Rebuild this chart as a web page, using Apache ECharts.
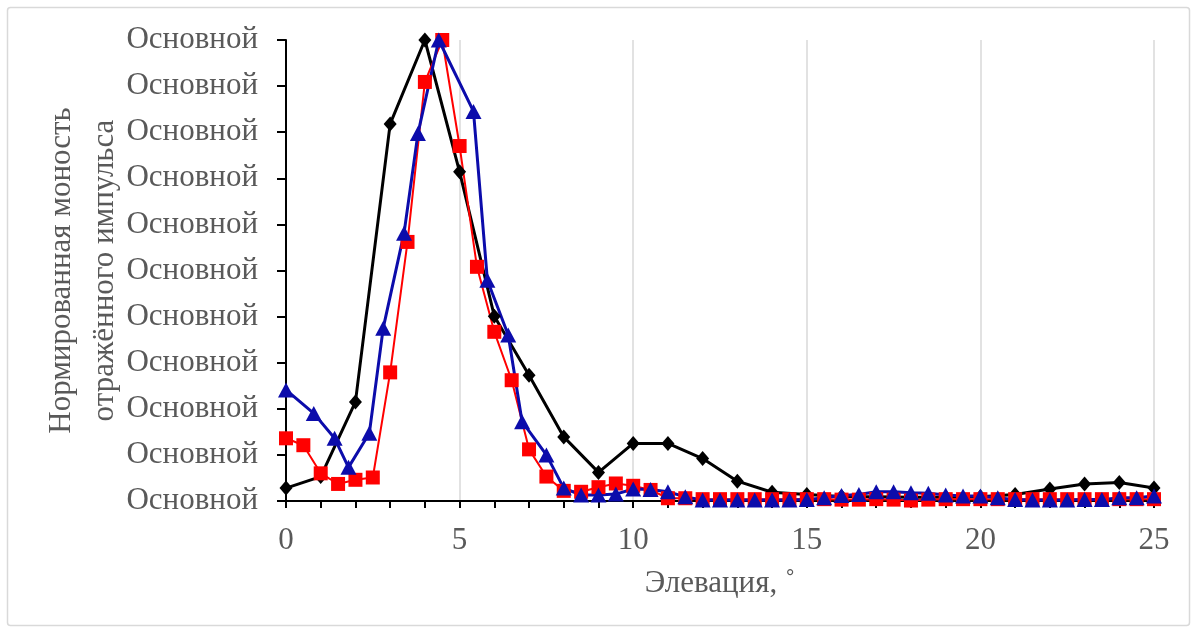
<!DOCTYPE html>
<html>
<head>
<meta charset="utf-8">
<script src="https://cdn.jsdelivr.net/npm/echarts@6/dist/echarts.min.js"></script>
<style>
  html, body { margin: 0; padding: 0; background: #fff; }
  #chart { width: 1197px; height: 633px; }
</style>
</head>
<body>
<div id="chart"></div>
<script>
// черная кривая (ромбы), шаг 1°
const blackX = [0, 1, 2, 3, 4, 5, 6, 7, 8, 9, 10, 11, 12, 13, 14, 15, 16, 17, 18, 19, 20, 21, 22, 23, 24, 25];
const blackY = [0.028, 0.053, 0.215, 0.818, 1.0, 0.714, 0.401, 0.273, 0.139, 0.062, 0.125, 0.125, 0.092, 0.043, 0.019,
  0.014, 0.01, 0.009, 0.008, 0.008, 0.009, 0.014, 0.026, 0.037, 0.040, 0.028];

// красная кривая (квадраты), шаг 0.5°
const redX = [0, 0.5, 1, 1.5, 2, 2.5, 3, 3.5, 4, 4.5, 5, 5.5, 6, 6.5, 7, 7.5, 8, 8.5, 9, 9.5, 10, 10.5, 11, 11.5, 12, 12.5,
  13, 13.5, 14, 14.5, 15, 15.5, 16, 16.5, 17, 17.5, 18, 18.5, 19, 19.5, 20, 20.5, 21, 21.5, 22, 22.5, 23, 23.5, 24, 24.5, 25];
const redY = [0.136, 0.121, 0.06, 0.037, 0.046, 0.051, 0.279, 0.562, 0.909, 1.0, 0.77, 0.508, 0.367, 0.262, 0.112, 0.053,
  0.022, 0.02, 0.03, 0.038, 0.033, 0.024, 0.006, 0.006, 0.004, 0.004,
  0.004, 0.004, 0.004, 0.004, 0.004, 0.004, 0.003, 0.003, 0.004, 0.003, 0.001, 0.003, 0.004, 0.004,
  0.004, 0.004, 0.004, 0.004, 0.004, 0.004, 0.004, 0.004, 0.004, 0.004, 0.004];

// синяя кривая (треугольники)
const blueX = [0, 0.8, 1.4, 1.8, 2.4, 2.8, 3.4, 3.8, 4.4, 5.4, 5.8, 6.4, 6.8, 7.5, 8, 8.5, 9, 9.5, 10, 10.5, 11, 11.5,
  12, 12.5, 13, 13.5, 14, 14.5, 15, 15.5, 16, 16.5, 17, 17.5, 18, 18.5, 19, 19.5, 20, 20.5, 21, 21.5, 22, 22.5, 23, 23.5, 24, 24.5, 25];
const blueY = [0.241, 0.19, 0.136, 0.073, 0.147, 0.375, 0.581, 0.797, 1.0, 0.845, 0.479, 0.36, 0.172, 0.1, 0.028, 0.013,
  0.013, 0.015, 0.026, 0.025, 0.02, 0.009, 0.002, 0.002, 0.002, 0.002, 0.002, 0.002, 0.003, 0.007, 0.012, 0.014, 0.02,
  0.02, 0.018, 0.017, 0.013, 0.011, 0.011, 0.007, 0.003, 0.002, 0.002, 0.002, 0.003, 0.003, 0.007, 0.007, 0.011];

// подписи оси Y (0 … 1 с шагом 0.1)
const yTickLabels = ['Основной', 'Основной', 'Основной', 'Основной', 'Основной', 'Основной',
  'Основной', 'Основной', 'Основной', 'Основной', 'Основной'];

const xName = 'Элевация, ˚';
const yName = 'Нормированная моность\nотражённого импульса';

const pairs = (xs, ys) => xs.map((x, i) => [x, ys[i]]);

const font = "'Liberation Serif', 'Times New Roman', serif";
const textColor = '#595959';
const fs = 31;

const chart = echarts.init(document.getElementById('chart'));
chart.setOption({
  animation: false,
  textStyle: { fontFamily: font },
  graphic: [{
    type: 'rect',
    shape: { x: 7.5, y: 7.5, width: 1182, height: 618, r: 3 },
    style: { fill: 'none', stroke: '#d9d9d9', lineWidth: 1.5 },
    silent: true
  }],
  grid: { left: 286, right: 43, top: 40, bottom: 132 },
  xAxis: {
    type: 'value',
    min: 0,
    max: 25,
    interval: 5,
    name: xName,
    nameLocation: 'middle',
    nameGap: 67,
    nameMoveOverlap: false,
    nameTextStyle: { color: textColor, fontSize: fs, fontFamily: font },
    axisLine: { onZero: false, lineStyle: { color: '#000', width: 2 } },
    axisTick: { show: true, inside: false, length: 7, lineStyle: { color: '#000', width: 2 } },
    minorTick: { show: true, splitNumber: 5, length: 7, lineStyle: { color: '#000', width: 2 } },
    axisLabel: { color: textColor, fontSize: fs, margin: 24, fontFamily: font },
    splitLine: { show: true, lineStyle: { color: '#d9d9d9', width: 1.5 } }
  },
  yAxis: {
    type: 'value',
    min: 0,
    max: 1,
    interval: 0.1,
    name: yName,
    nameLocation: 'middle',
    nameGap: 160,
    nameMoveOverlap: false,
    nameTextStyle: { color: textColor, fontSize: fs, lineHeight: 43, fontFamily: font },
    axisLine: { show: true, lineStyle: { color: '#000', width: 2 } },
    axisTick: { show: true, inside: false, length: 9, lineStyle: { color: '#000', width: 2 } },
    axisLabel: {
      color: textColor, fontSize: fs, margin: 28, fontFamily: font,
      formatter: (v) => yTickLabels[Math.round(v * 10)]
    },
    splitLine: { show: false }
  },
  series: [
    {
      name: 'black',
      type: 'line',
      data: pairs(blackX, blackY),
      symbol: 'diamond',
      symbolSize: [13, 15],
      lineStyle: { color: '#000', width: 3 },
      itemStyle: { color: '#000' }
    },
    {
      name: 'red',
      type: 'line',
      data: pairs(redX, redY),
      symbol: 'rect',
      symbolSize: 14,
      lineStyle: { color: '#ff0000', width: 2 },
      itemStyle: { color: '#ff0000' }
    },
    {
      name: 'blue',
      type: 'line',
      data: pairs(blueX, blueY),
      symbol: 'triangle',
      symbolSize: [16, 15],
      lineStyle: { color: '#0c0cab', width: 3 },
      itemStyle: { color: '#0c0cab' }
    }
  ]
});
</script>
</body>
</html>
